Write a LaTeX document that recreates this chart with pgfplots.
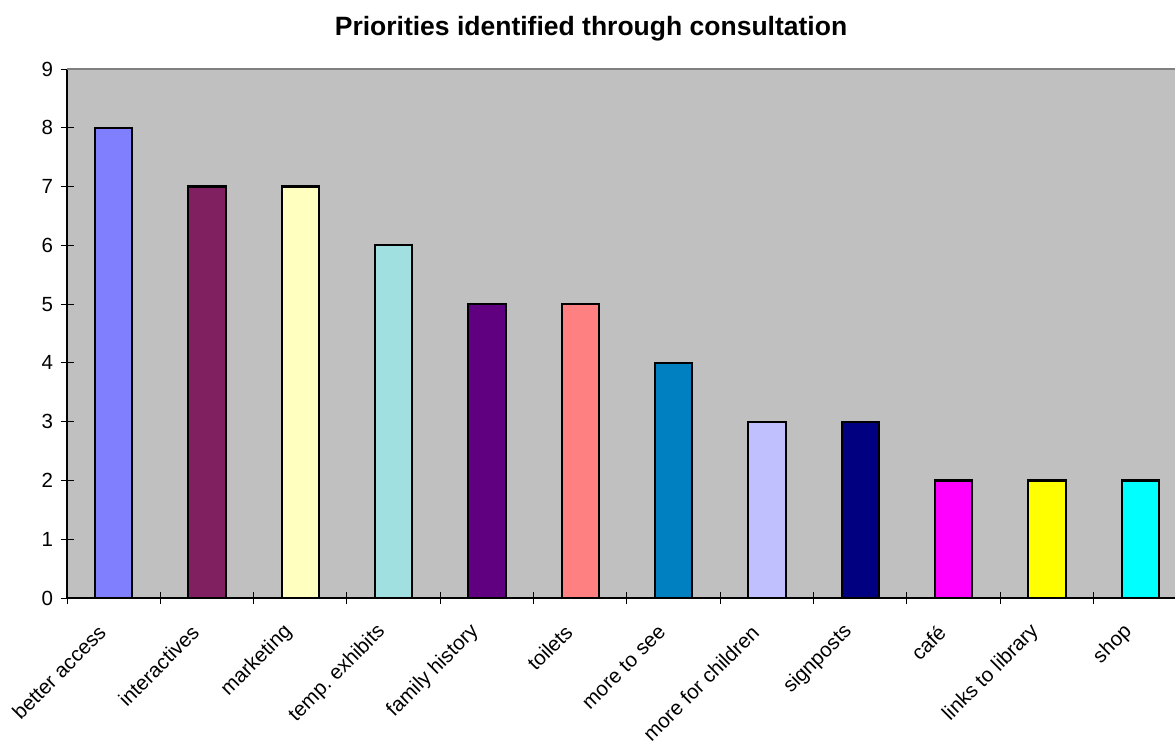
\documentclass[border=0pt]{standalone}
\usepackage{pgfplots}
\pgfplotsset{compat=1.18}
\usepackage{fontspec}
\setmainfont{Liberation Sans}

\definecolor{plotbg}{HTML}{C0C0C0}
\definecolor{frametop}{HTML}{808080}
\definecolor{c1}{HTML}{8080FF}
\definecolor{c2}{HTML}{802060}
\definecolor{c3}{HTML}{FFFFC0}
\definecolor{c4}{HTML}{A0E0E0}
\definecolor{c5}{HTML}{600080}
\definecolor{c6}{HTML}{FF8080}
\definecolor{c7}{HTML}{0080C0}
\definecolor{c8}{HTML}{C0C0FF}
\definecolor{c9}{HTML}{000080}
\definecolor{c10}{HTML}{FF00FF}
\definecolor{c11}{HTML}{FFFF00}
\definecolor{c12}{HTML}{00FFFF}

\pgfplotsset{
  pbar/.style={ybar, bar width=0.4, bar shift=0pt, draw=black, line width=2.2pt, fill=#1},
}

\begin{document}
\begin{tikzpicture}
\useasboundingbox (0,0) rectangle (1175pt,745pt);
\clip (0,0) rectangle (1175pt,745pt);
\begin{axis}[
  at={(67pt,147pt)}, anchor=south west,
  width=1120pt, height=529pt, scale only axis=true,
  xmin=0, xmax=12, ymin=0, ymax=9,
  axis x line=bottom, axis y line=left,
  axis line style={-, black, line width=1.3pt},
  axis background/.style={fill=plotbg},
  ytick={0,...,9},
  xtick={0.5,1.5,...,11.5},
  xticklabels={better access, interactives, marketing, temp.\ exhibits, family history, toilets, more to see, more for children, signposts, café, links to library, shop},
  minor xtick={0,...,12},
  major x tick style={draw=none},
  tick align=center,
  major tick length=13pt,
  minor tick length=12pt,
  tick style={black, line width=1pt},
  /pgf/number format/assume math mode=true,
  ticklabel style={font=\fontsize{20.5pt}{24pt}\selectfont},
  yticklabel style={xshift=-4pt},
  xticklabel style={rotate=45, anchor=east, xshift=-22pt, yshift=-9pt},
  clip=false,
]
\addplot[pbar=c1]  coordinates {(0.5,8)};
\addplot[pbar=c2]  coordinates {(1.5,7)};
\addplot[pbar=c3]  coordinates {(2.5,7)};
\addplot[pbar=c4]  coordinates {(3.5,6)};
\addplot[pbar=c5]  coordinates {(4.5,5)};
\addplot[pbar=c6]  coordinates {(5.5,5)};
\addplot[pbar=c7]  coordinates {(6.5,4)};
\addplot[pbar=c8]  coordinates {(7.5,3)};
\addplot[pbar=c9]  coordinates {(8.5,3)};
\addplot[pbar=c10] coordinates {(9.5,2)};
\addplot[pbar=c11] coordinates {(10.5,2)};
\addplot[pbar=c12] coordinates {(11.5,2)};
\draw[frametop, line width=2pt] (rel axis cs:0,1) -- (rel axis cs:1,1);
\end{axis}
\node[font=\bfseries\fontsize{26.5pt}{31pt}\selectfont] at (591pt,716pt) {Priorities identified through consultation};
\end{tikzpicture}
\end{document}
